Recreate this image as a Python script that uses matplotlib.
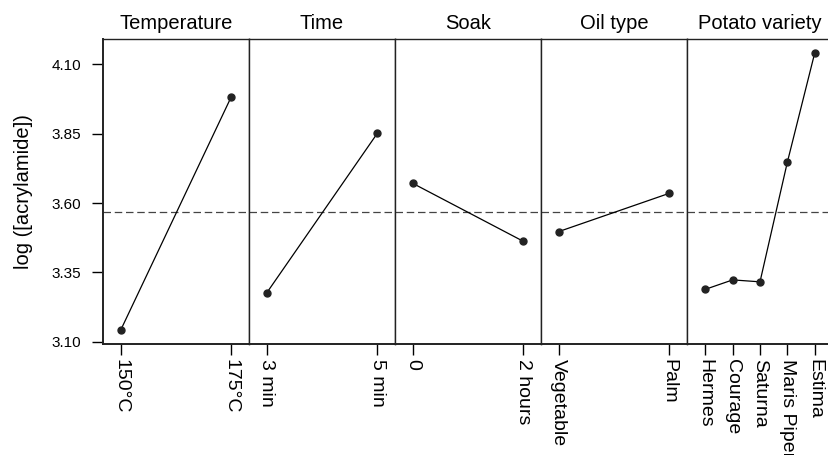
import matplotlib.pyplot as plt

plt.rcParams['font.family'] = ['Liberation Sans', 'DejaVu Sans']

# factors and their level means (log acrylamide)
factors = ['Temperature', 'Time', 'Soak', 'Oil type', 'Potato variety']
levels = [
    ['150°C', '175°C'],
    ['3 min', '5 min'],
    ['0', '2 hours'],
    ['Vegetable', 'Palm'],
    ['Hermes', 'Courage', 'Saturna', 'Maris Piper', 'Estima'],
]
means = [
    [3.142, 3.983],
    [3.276, 3.851],
    [3.671, 3.462],
    [3.497, 3.635],
    [3.289, 3.323, 3.316, 3.747, 4.140],
]
grand_mean = 3.567
yticks = [3.10, 3.35, 3.60, 3.85, 4.10]

fig = plt.figure(figsize=(8.29, 4.55), dpi=100)
W, H = 829, 455
left, top, bottom = 103, 39, 344
pw = 146

for i, (name, lv, m) in enumerate(zip(factors, levels, means)):
    ax = fig.add_axes([(left + i * pw) / W, (H - bottom) / H, pw / W, (bottom - top) / H])
    n = len(lv)
    x = list(range(n))
    ax.plot(x, m, color='black', lw=0.9, marker='o', ms=5,
            mfc='#222222', mec='#222222', zorder=3)
    ax.axhline(grand_mean, color='#444444', lw=0.9, ls=(0, (6, 3)))
    margin = 0.16 if n == 2 else 0.67
    ax.set_xlim(-margin, n - 1 + margin)
    ax.set_ylim(3.092, 4.191)
    ax.set_xticks(x)
    ax.set_xticklabels(lv, rotation=270, fontsize=14, va='top', ha='center')
    ax.tick_params(axis='x', direction='out', length=8, width=1, pad=3)
    ax.set_title(name, fontsize=14.5, pad=7)
    for s in ['top', 'bottom', 'left', 'right']:
        ax.spines[s].set_linewidth(1.0)
        ax.spines[s].set_color('#222222')
    ax.spines['bottom'].set_linewidth(1.4)
    if i == 0:
        ax.set_yticks(yticks)
        ax.set_yticklabels([f'{v:.2f}' for v in yticks], fontsize=11)
        ax.tick_params(axis='y', direction='out', length=8, width=1, pad=8)
        ax.set_ylabel('log ([acrylamide])', fontsize=14.5, labelpad=13)
        ax.spines['left'].set_linewidth(1.4)
    else:
        ax.set_yticks([])

fig.savefig('out.png', dpi=100)
